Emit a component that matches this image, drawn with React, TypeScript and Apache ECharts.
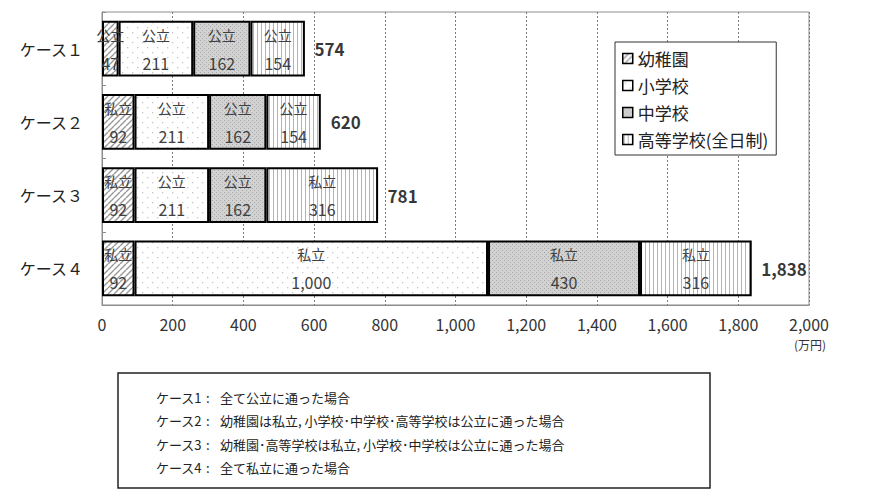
import React, { useEffect, useRef } from "react";
import * as echarts from "echarts";

const categories = ["ケース１", "ケース２", "ケース３", "ケース４"];
const seriesNames = ["幼稚園", "小学校", "中学校", "高等学校(全日制)"];
const kinderValues = [47, 92, 92, 92];
const kinderTypes = ["公立", "私立", "私立", "私立"];
const elemValues = [211, 211, 211, 1000];
const elemTypes = ["公立", "公立", "公立", "私立"];
const juniorValues = [162, 162, 162, 430];
const juniorTypes = ["公立", "公立", "公立", "私立"];
const highValues = [154, 154, 316, 316];
const highTypes = ["公立", "公立", "私立", "私立"];
const totals = [574, 620, 781, 1838];
const xTicks = [0, 200, 400, 600, 800, 1000, 1200, 1400, 1600, 1800, 2000];
const noteCases = ["ケース1", "ケース2", "ケース3", "ケース4"];
const noteTexts = [
  "全て公立に通った場合",
  "幼稚園は私立, 小学校･中学校･高等学校は公立に通った場合",
  "幼稚園･高等学校は私立, 小学校･中学校は公立に通った場合",
  "全て私立に通った場合",
];

const FONT = "'Noto Sans CJK JP', 'Noto Sans', sans-serif";

function makeCanvas(size: number, draw: (ctx: CanvasRenderingContext2D) => void) {
  const c = document.createElement("canvas");
  c.width = size;
  c.height = size;
  const ctx = c.getContext("2d")!;
  draw(ctx);
  return c;
}

function patterns() {
  const diag = makeCanvas(6, (ctx) => {
    ctx.fillStyle = "#ffffff";
    ctx.fillRect(0, 0, 6, 6);
    ctx.strokeStyle = "#9a9a9a";
    ctx.lineWidth = 1.4;
    for (let k = -1; k <= 1; k++) {
      ctx.beginPath();
      ctx.moveTo(k * 6, 6);
      ctx.lineTo(k * 6 + 6, 0);
      ctx.stroke();
    }
  });
  const dots = makeCanvas(10, (ctx) => {
    ctx.fillStyle = "#ffffff";
    ctx.fillRect(0, 0, 10, 10);
    ctx.fillStyle = "#c4c4c4";
    ctx.fillRect(2, 2, 1.3, 1.3);
    ctx.fillRect(7, 7, 1.3, 1.3);
  });
  const dense = makeCanvas(4, (ctx) => {
    ctx.fillStyle = "#d2d2d2";
    ctx.fillRect(0, 0, 4, 4);
    ctx.fillStyle = "#a8a8a8";
    ctx.fillRect(0, 0, 1, 1);
    ctx.fillRect(2, 2, 1, 1);
  });
  const vert = makeCanvas(4, (ctx) => {
    ctx.fillStyle = "#ffffff";
    ctx.fillRect(0, 0, 4, 4);
    ctx.fillStyle = "#b4b4b4";
    ctx.fillRect(1, 0, 1, 4);
  });
  return [diag, dots, dense, vert];
}

const fmt = (v: number) => v.toLocaleString("en-US");

export default function App() {
  const ref = useRef<HTMLDivElement>(null);
  useEffect(() => {
    if (!ref.current) return;
    const chart = echarts.init(ref.current, undefined, { renderer: "svg" });
    const pats = patterns();
    const valueSets = [kinderValues, elemValues, juniorValues, highValues];
    const typeSets = [kinderTypes, elemTypes, juniorTypes, highTypes];

    const barSeries = seriesNames.map((name, i) => ({
      name,
      type: "bar",
      stack: "total",
      barWidth: "76%",
      data: valueSets[i],
      itemStyle: {
        color: { image: pats[i], repeat: "repeat" },
        borderColor: "#000",
        borderWidth: 2,
      },
      label: {
        show: true,
        position: "inside",
        fontFamily: FONT,
        color: "#404040",
        formatter: (p: any) => `{t|${typeSets[i][p.dataIndex]}}\n{n|${fmt(p.value)}}`,
        rich: {
          t: { fontFamily: FONT, fontSize: 14, color: "#404040", lineHeight: 28 },
          n: { fontFamily: FONT, fontSize: 16, color: "#404040", lineHeight: 28 },
        },
      },
    }));

    const gridLeft = 102;
    const gridRight = 809;
    const noteBox = { x: 118, y: 373, w: 592, h: 115 };

    chart.setOption({
      animation: false,
      grid: {
        left: gridLeft,
        right: 870 - gridRight,
        top: 12,
        bottom: 497 - 305,
        show: true,
        borderColor: "#8c8c8c",
        borderWidth: 1,
      },
      legend: {
        data: seriesNames,
        orient: "vertical",
        left: 615,
        top: 42,
        padding: [6, 8, 5, 7],
        itemGap: 6,
        itemWidth: 10,
        itemHeight: 10,
        icon: "rect",
        backgroundColor: "#fff",
        borderColor: "#333",
        borderWidth: 1,
        textStyle: { fontFamily: FONT, fontSize: 17, color: "#222", lineHeight: 21 },
        itemStyle: { borderWidth: 1.5 },
        selectedMode: false,
      },
      xAxis: {
        type: "value",
        min: 0,
        max: 2000,
        interval: 200,
        axisLine: { show: true, lineStyle: { color: "#8c8c8c" } },
        axisTick: { show: false },
        axisLabel: {
          fontFamily: FONT,
          fontSize: 16,
          color: "#333",
          margin: 11,
          formatter: (v: number) => (xTicks.includes(v) ? fmt(v) : ""),
        },
        splitLine: {
          show: true,
          lineStyle: { color: "#7a7a7a", type: [2, 2], width: 1 },
        },
      },
      yAxis: {
        type: "category",
        inverse: true,
        data: categories,
        axisLine: { show: true, lineStyle: { color: "#8c8c8c" } },
        axisTick: { show: true, inside: true, length: 4, lineStyle: { color: "#8c8c8c" } },
        axisLabel: { fontFamily: FONT, fontSize: 16, color: "#222", margin: 19 },
      },
      series: [
        ...barSeries,
        {
          name: "合計",
          type: "scatter",
          data: totals.map((t, i) => [t, categories[i]]),
          symbolSize: 1,
          itemStyle: { color: "rgba(0,0,0,0)" },
          label: {
            show: true,
            position: "right",
            distance: 9,
            fontFamily: FONT,
            fontSize: 17,
            fontWeight: "bold",
            color: "#000",
            formatter: (p: any) => fmt(p.value[0]),
          },
          silent: true,
        },
      ],
      graphic: [
        {
          type: "text",
          left: 794,
          top: 338,
          style: { text: "(万円)", fontFamily: FONT, fontSize: 12, fill: "#333" },
        },
        {
          type: "rect",
          shape: { x: noteBox.x, y: noteBox.y, width: noteBox.w, height: noteBox.h },
          style: { fill: "#fff", stroke: "#222", lineWidth: 1.5 },
        },
        ...noteCases.flatMap((c, i) => [
          {
            type: "text",
            x: 156,
            y: 397 + i * 23.6,
            style: {
              text: c,
              fontFamily: FONT,
              fontSize: 13,
              fill: "#222",
              textVerticalAlign: "middle",
            },
          },
          {
            type: "text",
            x: 206,
            y: 397 + i * 23.6,
            style: {
              text: ":",
              fontFamily: FONT,
              fontSize: 13,
              fill: "#222",
              textVerticalAlign: "middle",
            },
          },
          {
            type: "text",
            x: 220,
            y: 397 + i * 23.6,
            style: {
              text: noteTexts[i],
              fontFamily: FONT,
              fontSize: 13,
              fill: "#222",
              textVerticalAlign: "middle",
            },
          },
        ]),
      ],
    });
    return () => chart.dispose();
  }, []);
  return (
    <div
      ref={ref}
      style={{ position: "fixed", left: 0, top: 0, width: 870, height: 497, background: "#fff" }}
    />
  );
}
